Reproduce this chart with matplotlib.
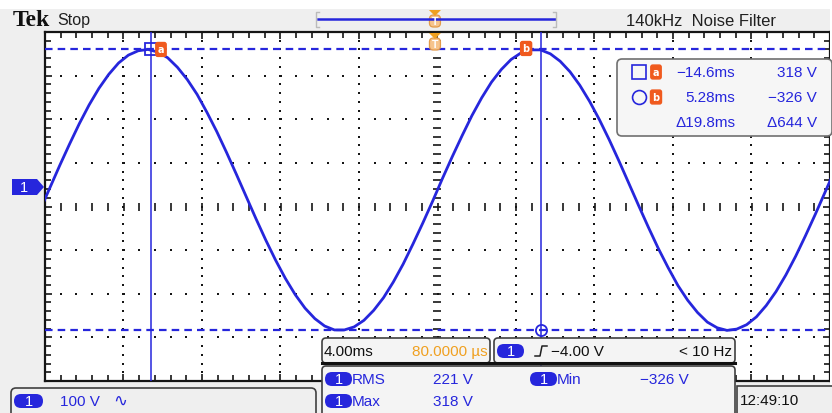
import numpy as np
import matplotlib
matplotlib.use("Agg")
from matplotlib import pyplot as plt
from matplotlib.patches import FancyBboxPatch, Rectangle, Polygon

# trace samples (V), every 0.5 ms starting at -20.25 ms
trace_v = [-50, 1, 52, 101, 148, 191, 229, 261, 287, 305, 315, 318, 312, 299, 277, 249,
           215, 174, 130, 82, 32, -19, -70, -119, -165, -207, -244, -275, -299, -316, -325,
           -325, -318, -303, -280, -251, -215, -174, -128, -80, -30, 22, 72, 120, 166, 207,
           243, 272, 295, 310, 317, 317, 308, 291, 267, 236, 199, 157, 111, 62, 11, -40, -90,
           -138, -182, -223, -257, -285, -307, -320, -326, -323, -313, -295, -269, -237, -199,
           -156, -109, -60, -9, 42]
t_start = -20.25
t_step = 0.5

volts_per_div = 100
ms_per_div = 4
ch1_offset_div = 0.42
trig_time = -0.13

cursor_a = (-14.6, 318)
cursor_b = (5.28, -326)
delta = ("19.8ms", "644 V")
meas = {"RMS": "221 V", "Max": "318 V", "Min": "-326 V"}

BLUE = "#2626dc"
ORANGE = "#f0a020"
BADGE = "#f05a1e"
NARROW = ["Liberation Sans", "DejaVu Sans"]
FS = 11

t = t_start + t_step * np.arange(len(trace_v))

fig = plt.figure(figsize=(8.32, 4.14), dpi=100)
fig.patch.set_facecolor("#efefef")

# graticule
ax = fig.add_axes([45 / 832, 32 / 414, 785 / 832, 349 / 414])
ax.set_facecolor("white")
xl = 5 * ms_per_div
yc = -ch1_offset_div * volts_per_div
yl = 4 * volts_per_div
ax.set_xlim(-xl, xl)
ax.set_ylim(yc - yl, yc + yl)
for s in ax.spines.values():
    s.set_linewidth(1.6)
    s.set_color("#151515")
ax.set_xticks(np.arange(-xl, xl + 0.01, ms_per_div))
ax.set_yticks(np.arange(yc - yl, yc + yl + 0.01, volts_per_div))
ax.set_xticks(np.arange(-xl, xl + 0.01, ms_per_div / 5), minor=True)
ax.set_yticks(np.arange(yc - yl, yc + yl + 0.01, volts_per_div / 5), minor=True)
ax.tick_params(which="both", direction="in", length=4, width=1.2, color="#151515",
               top=True, right=True, labelbottom=False, labelleft=False)
ax.tick_params(which="major", length=5)

xminor = np.arange(-xl, xl + 0.01, ms_per_div / 5)[1:-1]
yminor = np.arange(yc - yl, yc + yl + 0.01, volts_per_div / 5)[1:-1]
for xm in np.arange(-xl + ms_per_div, xl - 0.01, ms_per_div):
    if abs(xm) < 1e-6:
        ax.plot(np.full_like(yminor, xm), yminor, ls="none", marker="_", ms=6, mew=1.2, color="#151515")
    else:
        ax.plot(np.full_like(yminor, xm), yminor, ls="none", marker="s", ms=1.6, mew=0, color="#151515")
for ym in np.arange(yc - yl + volts_per_div, yc + yl - 0.01, volts_per_div):
    if abs(ym - yc) < 1e-6:
        ax.plot(xminor, np.full_like(xminor, ym), ls="none", marker="|", ms=6, mew=1.2, color="#151515")
    else:
        ax.plot(xminor, np.full_like(xminor, ym), ls="none", marker="s", ms=1.6, mew=0, color="#151515")

# cursors
for cx, cy in (cursor_a, cursor_b):
    ax.axvline(cx, color=BLUE, lw=1.1, zorder=3)
    ax.axhline(cy, color=BLUE, lw=1.6, ls=(0, (3.4, 2.3)), zorder=3)

ax.plot(t, trace_v, color=BLUE, lw=2.0, zorder=4, clip_on=True)

ax.plot(*cursor_a, marker="s", ms=8, mfc="none", mec=BLUE, mew=1.3, zorder=5)
ax.plot(*cursor_b, marker="o", ms=8, mfc="none", mec=BLUE, mew=1.3, zorder=5)
ax.annotate("a", cursor_a, xytext=(10, 0), textcoords="offset pixels", ha="center", va="center",
            fontsize=7, color="white", fontweight="bold", zorder=6,
            bbox=dict(boxstyle="round,pad=0.2", fc=BADGE, ec=BADGE))
ax.annotate("b", (cursor_b[0], cursor_a[1]), xytext=(-15, 1), textcoords="offset pixels",
            ha="center", va="center", fontsize=7, color="white", fontweight="bold", zorder=6,
            bbox=dict(boxstyle="round,pad=0.2", fc=BADGE, ec=BADGE))

# overlay in pixel coords
ov = fig.add_axes([0, 0, 1, 1], zorder=10)
ov.set_xlim(0, 832)
ov.set_ylim(414, 0)
ov.axis("off")
ov.patch.set_alpha(0)

ov.add_patch(Rectangle((0, 0), 832, 10, fc="white", ec="none"))
ov.add_patch(Rectangle((830, 0), 2, 414, fc="white", ec="none"))
ov.text(13, 20, "Tek", family=["Liberation Serif", "DejaVu Serif"], fontweight="bold",
        fontsize=17, va="center", color="#101010")
ov.text(57, 21, "Stop", family=NARROW, fontsize=FS + 0.5, va="center", color="#202020")
ov.text(776, 21, "140kHz  Noise Filter", family=NARROW, fontsize=FS + 1, va="center",
        ha="right", color="#202020")

# record bar
ov.plot([318, 555], [20, 20], color=BLUE, lw=1.8)
for bx, d in ((316, 1), (556, -1)):
    ov.plot([bx + 3 * d, bx, bx, bx + 3 * d], [13, 13, 28, 28], color="#bbbbbb", lw=1)
trig_px = 437.5 + trig_time * 785 / (10 * ms_per_div)


def t_marker(x, y):
    ov.add_patch(FancyBboxPatch((x - 5.5, y + 5), 11, 12, boxstyle="round,pad=0,rounding_size=4",
                                fc="#f6c48c", ec="#e39a48", lw=0.9))
    ov.text(x, y + 11, "T", fontsize=7.5, ha="center", va="center", color="white",
            fontweight="bold", family=NARROW)
    ov.add_patch(Polygon([[x - 6, y], [x + 6, y], [x, y + 6]], closed=True, fc=ORANGE, ec="none"))


t_marker(trig_px, 11)
t_marker(trig_px, 34)

# channel marker
ov.add_patch(Polygon([[12, 180], [37, 180], [44, 188], [37, 196], [12, 196]], closed=True,
                     fc=BLUE, ec="none"))
ov.text(24, 188.5, "1", color="white", fontsize=10.5, ha="center", va="center", family=NARROW)

# cursor readout
ov.add_patch(FancyBboxPatch((617, 60), 215, 77, boxstyle="round,pad=0,rounding_size=5",
                            fc="#f6f6f6", ec="#707070", lw=1.2))
rows_y = [73, 98, 123]
ov.plot(639, rows_y[0], marker="s", ms=10, mfc="none", mec=BLUE, mew=1.2)
ov.plot(639, rows_y[1], marker="o", ms=10, mfc="none", mec=BLUE, mew=1.2)
for yy, lab in zip(rows_y[:2], "ab"):
    ov.text(656, yy, lab, fontsize=7, color="white", fontweight="bold", ha="center", va="center",
            bbox=dict(boxstyle="round,pad=0.2", fc=BADGE, ec=BADGE))
ov.text(735, rows_y[0], "\u2212%.1fms" % abs(cursor_a[0]), family=NARROW, fontsize=FS, color=BLUE,
        ha="right", va="center")
ov.text(735, rows_y[1], "%.2fms" % cursor_b[0], family=NARROW, fontsize=FS, color=BLUE,
        ha="right", va="center")
ov.text(735, rows_y[2], "\u0394" + delta[0], family=NARROW, fontsize=FS, color=BLUE,
        ha="right", va="center")
ov.text(817, rows_y[0], "%d V" % cursor_a[1], family=NARROW, fontsize=FS, color=BLUE,
        ha="right", va="center")
ov.text(817, rows_y[1], "\u2212%d V" % abs(cursor_b[1]), family=NARROW, fontsize=FS, color=BLUE,
        ha="right", va="center")
ov.text(817, rows_y[2], "\u0394" + delta[1], family=NARROW, fontsize=FS, color=BLUE,
        ha="right", va="center")


def pill(x, y, w=27, h=14):
    ov.add_patch(FancyBboxPatch((x, y - h / 2), w, h, boxstyle="round,pad=0,rounding_size=7",
                                fc=BLUE, ec="none"))
    ov.text(x + w / 2, y + 0.5, "1", color="white", fontsize=10.5, ha="center", va="center",
            family=NARROW)


# bottom left
ov.add_patch(FancyBboxPatch((11, 389), 305, 30, boxstyle="round,pad=0,rounding_size=5",
                            fc="#efefef", ec="#404040", lw=1.2))
pill(14, 402, 29)
ov.text(60, 402, "100 V", family=NARROW, fontsize=FS, color=BLUE, va="center")
ov.text(113, 401, "\u223f", fontsize=12, color=BLUE, va="center")

# timebase / trigger boxes
ov.add_patch(FancyBboxPatch((322, 339), 168, 25, boxstyle="round,pad=0,rounding_size=4",
                            fc="#f4f4f4", ec="#404040", lw=1.2))
ov.text(324, 352, "4.00ms", family=NARROW, fontsize=FS, color="#101010", va="center")
ov.text(488, 352, "80.0000 \u00b5s", family=NARROW, fontsize=FS, color=ORANGE, va="center",
        ha="right")
ov.add_patch(FancyBboxPatch((494, 339), 241, 25, boxstyle="round,pad=0,rounding_size=4",
                            fc="#f4f4f4", ec="#404040", lw=1.2))
pill(497, 352)
ov.plot([535, 540, 542, 547], [357, 357, 347, 347], color="#202020", lw=1.1)
ov.text(551, 352, "\u22124.00 V", family=NARROW, fontsize=FS, color="#101010", va="center")
ov.text(732, 352, "< 10 Hz", family=NARROW, fontsize=FS, color="#101010", va="center", ha="right")
ov.plot([322, 735], [364, 364], color="#101010", lw=2.2)

# measurements
ov.add_patch(FancyBboxPatch((322, 367), 413, 52, boxstyle="round,pad=0,rounding_size=4",
                            fc="#f4f4f4", ec="#404040", lw=1.2))
for (name, xx, yy, vx) in (("RMS", 325, 380, 433), ("Max", 325, 402, 433), ("Min", 530, 380, 640)):
    pill(xx, yy)
    ov.text(xx + 27, yy, name, family=NARROW, fontsize=FS, color=BLUE, va="center")
    ov.text(vx, yy, meas[name].replace("-", "\u2212"), family=NARROW, fontsize=FS, color=BLUE,
            va="center")

# clock
ov.add_patch(Rectangle((737, 387), 100, 30, fc="#efefef", ec="#404040", lw=1.2))
ov.text(740, 401, "12:49:10", family=NARROW, fontsize=FS, color="#101010", va="center")

fig.savefig("out.png", dpi=100, facecolor=fig.get_facecolor())
